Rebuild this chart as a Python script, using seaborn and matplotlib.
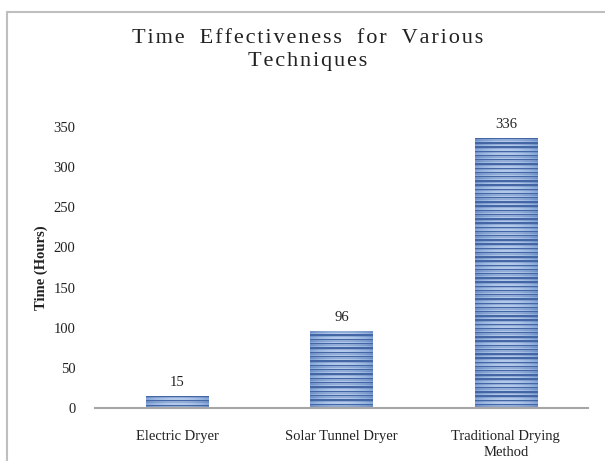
import numpy as np
import pandas as pd
import matplotlib
matplotlib.use("Agg")
import matplotlib.pyplot as plt
from matplotlib.lines import Line2D
import seaborn as sns

# Drying time per technique (hours)
techniques = ["Electric Dryer", "Solar Tunnel Dryer", "Traditional Drying\nMethod"]
hours = [15, 96, 336]
y_ticks = [0, 50, 100, 150, 200, 250, 300, 350]

title_text = "Time Effectiveness for Various\nTechniques"
y_label = "Time (Hours)"

sns.set_theme(style="white")
plt.rcParams["font.family"] = ["Liberation Serif", "DejaVu Serif"]

df = pd.DataFrame({"technique": techniques, "hours": hours})

fig = plt.figure(figsize=(6.05, 4.61), dpi=100)
ax = fig.add_axes([95 / 605, 1 - 408 / 461, (588 - 95) / 605, (408 - 127) / 461])

sns.barplot(data=df, x="technique", y="hours", ax=ax, color="#8fb0e0",
            width=0.38, saturation=1, edgecolor="none")

# striped, centre-lit fill for each bar
cols = np.linspace(-1, 1, 60)
light = 1 - cols ** 2
dark_c = np.array([0.27, 0.40, 0.65])
mid_c = np.array([0.56, 0.69, 0.88])
hi_c = np.array([0.88, 0.93, 0.99])
for p in ax.patches:
    x0, y0 = p.get_x(), p.get_y()
    w, h = p.get_width(), p.get_height()
    n = max(int(h * 0.8 / 1.4), 4)
    st = np.where(np.arange(n) % 3 == 0, 0.0, np.where(np.arange(n) % 3 == 1, 0.55, 0.85))
    img = np.zeros((n, 60, 3))
    for i in range(n):
        base = dark_c * (1 - st[i]) + mid_c * st[i]
        lift = light * 0.6 * st[i]
        img[i] = base[None, :] * (1 - lift[:, None]) + hi_c[None, :] * lift[:, None]
    im = ax.imshow(img, extent=[x0, x0 + w, y0, y0 + h], aspect="auto",
                   interpolation="nearest", zorder=2, origin="upper")
    im.set_clip_path(p)

ax.bar_label(ax.containers[0], labels=[str(v) for v in hours], padding=5,
             fontsize=10.5, color="#222222")

ax.set_xlim(-0.5, 2.5)
ax.set_ylim(0, 350)
ax.set_yticks(y_ticks)
ax.set_yticklabels([str(t) for t in y_ticks], fontsize=10.5, color="#222222")
ax.tick_params(axis="y", length=0, pad=14)
ax.tick_params(axis="x", length=0, pad=16, labelsize=10.5, labelcolor="#222222")
for lbl in ax.get_xticklabels():
    lbl.set_linespacing(1.3)
ax.set_xlabel("")
ax.set_ylabel(y_label, fontsize=10.5, fontweight="bold", color="#222222", labelpad=4)

for side in ["left", "right", "top"]:
    ax.spines[side].set_visible(False)
ax.spines["bottom"].set_color("#a6a6a6")
ax.spines["bottom"].set_linewidth(1.5)
ax.grid(False)

# letter-spaced title, with slightly wider gaps between words
def track(line):
    return "\u200a".join(line).replace(" ", "  ")

spaced = "\n".join(track(line) for line in title_text.split("\n"))
fig.text(308 / 605, 1 - 50 / 461, spaced, ha="center", va="center",
         fontsize=16, color="#222222", linespacing=1.35)

# chart area border (top and left edges)
fig.add_artist(Line2D([7 / 605, 1.0], [1 - 12.5 / 461] * 2, color="#bfbfbf",
                      lw=1.5, transform=fig.transFigure))
fig.add_artist(Line2D([7 / 605] * 2, [0.0, 1 - 12.5 / 461], color="#bfbfbf",
                      lw=1.5, transform=fig.transFigure))

fig.savefig("out.png", dpi=100, facecolor="white")
